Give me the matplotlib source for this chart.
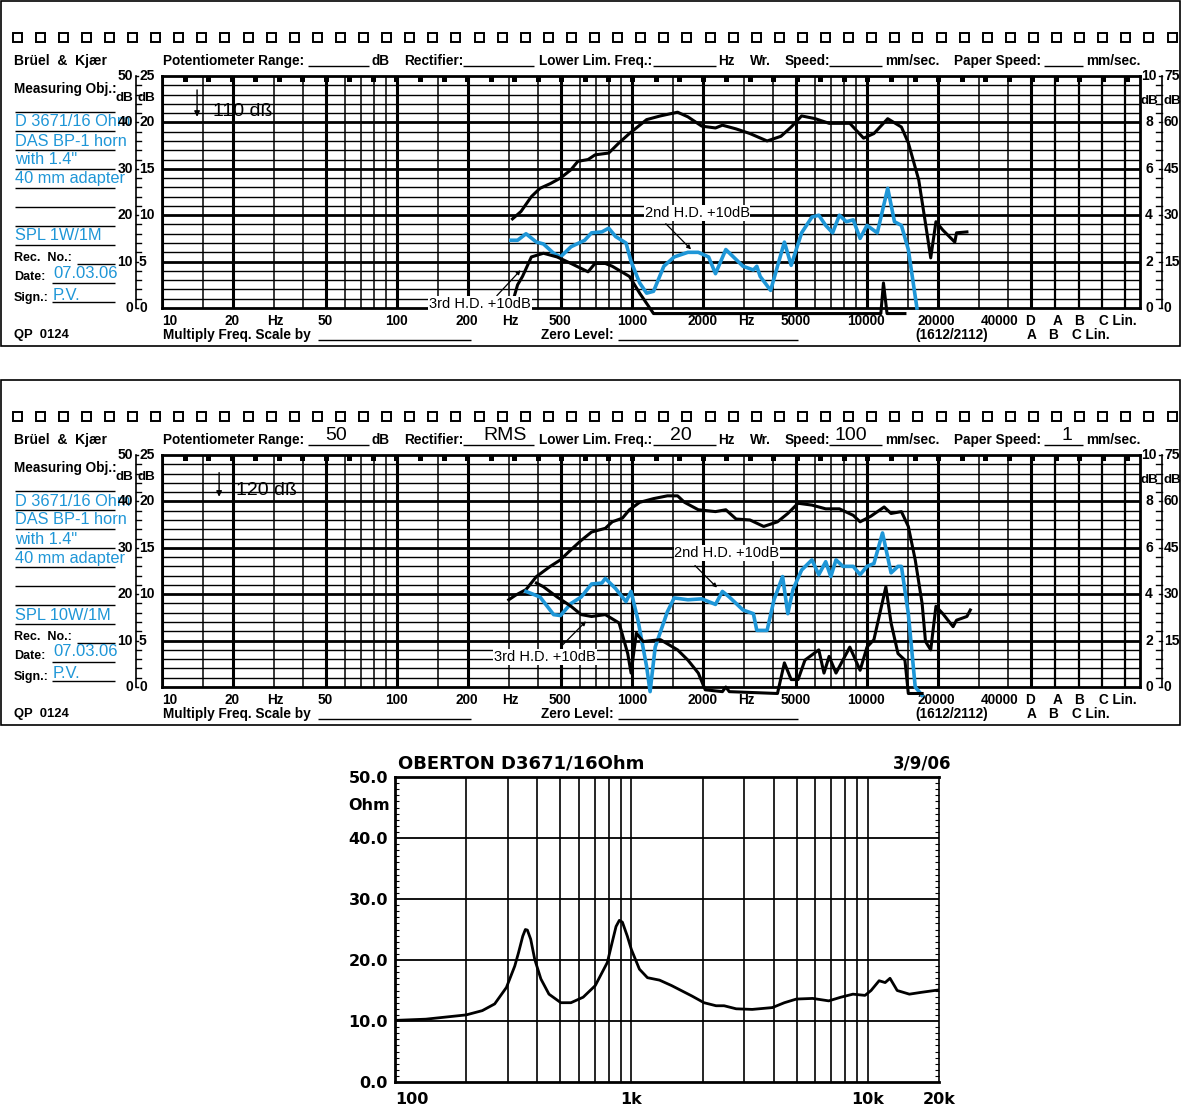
"""
Oberton D3671 on DAS BP-1 horn: two B&K chart-recorder strips (SPL 1 W and 10 W,
with 2nd/3rd harmonic +10 dB) and the impedance curve below.
"""
import numpy as np
import matplotlib
matplotlib.use('Agg')
import matplotlib.pyplot as plt
from matplotlib.patches import Rectangle
from matplotlib.ticker import NullLocator, MultipleLocator

# ── Data read off the strips (Hz, dB on the 25 dB paper scale) ───────────────
# strip 1: SPL 1W/1M
spl1_f = [310, 337, 373, 406, 449, 496, 550, 588, 650, 696, 796, 881, 975, 1043,
          1154, 1321, 1563, 1729, 1980, 2266, 2425, 2773, 3175, 3757, 4301, 4758,
          5269, 6026, 6899, 8450, 9672, 10700, 12250, 14010, 14990, 16600, 17740,
          18670, 19650, 21020, 23640, 24040, 26620]
spl1_db = [9.6, 10.4, 12.0, 12.9, 13.4, 14.0, 14.9, 15.8, 16.0, 16.5, 16.7, 17.8,
           18.8, 19.4, 20.3, 20.7, 21.1, 20.6, 19.6, 19.4, 19.7, 19.3, 18.8, 18.0,
           18.5, 19.5, 20.7, 20.4, 19.9, 19.9, 18.3, 18.8, 20.4, 19.5, 17.8, 13.8,
           9.1, 5.4, 9.3, 8.4, 7.1, 8.1, 8.2]
h2_1_f = [305, 326, 354, 392, 420, 464, 496, 550, 629, 673, 744, 796, 852, 943,
          991, 1078, 1154, 1235, 1366, 1512, 1729, 1915, 2118, 2266, 2507, 2967,
          3285, 3397, 3511, 3889, 4451, 4758, 5269, 5830, 6235, 6672, 7139, 7630,
          8166, 8736, 9346, 10000, 11060, 12250, 13090, 14010, 14990, 16310]
h2_1_db = [7.3, 7.3, 8.0, 7.1, 6.9, 5.9, 5.5, 6.6, 7.3, 8.1, 8.2, 8.6, 7.7, 7.0,
           5.0, 2.7, 1.6, 1.8, 4.5, 5.5, 6.0, 6.0, 5.5, 3.7, 6.3, 4.5, 4.1, 4.5,
           3.4, 1.9, 7.1, 4.6, 8.1, 9.8, 10.0, 8.9, 8.1, 10.0, 9.3, 9.5, 7.5, 8.9,
           8.1, 12.9, 9.3, 8.9, 6.3, 0.0]
h3_1_f = [315, 326, 342, 373, 420, 480, 550, 650, 696, 770, 824, 975, 1078, 1235,
          11450, 11750, 12170, 14500]
h3_1_db = [1.2, 2.5, 3.4, 5.5, 5.9, 5.5, 4.8, 3.9, 4.8, 4.8, 4.5, 3.4, 1.6, -0.6,
           -0.6, 2.7, -0.6, -0.6]

# strip 2: SPL 10W/1M
spl2_f = [299, 320, 354, 392, 449, 496, 550, 608, 673, 770, 824, 911, 975, 1078,
          1235, 1414, 1563, 1673, 1915, 2266, 2507, 2773, 3175, 3634, 4159, 4603,
          5090, 5830, 6672, 7630, 8736, 9346, 10380, 11830, 12660, 14010, 14990,
          16040, 17160, 17740, 18670, 19650, 21020, 23250, 24040, 26620, 27520]
spl2_db = [9.4, 9.9, 10.5, 11.9, 13.0, 13.7, 14.8, 15.8, 16.7, 17.1, 17.8, 18.2,
           19.1, 19.9, 20.3, 20.6, 20.6, 19.9, 19.1, 18.9, 19.1, 18.1, 18.0, 17.3,
           17.8, 18.7, 19.8, 19.6, 19.2, 19.2, 18.5, 17.8, 18.4, 19.4, 18.7, 18.9,
           17.3, 13.7, 9.0, 4.9, 4.0, 8.7, 7.9, 6.5, 7.2, 7.6, 8.3]
h2_2_f = [354, 406, 464, 496, 550, 608, 673, 744, 770, 852, 943, 991, 1060, 1154,
          1194, 1255, 1414, 1512, 1729, 1980, 2266, 2425, 2594, 2967, 3285, 3397,
          3757, 4021, 4374, 4603, 4843, 5269, 5830, 6235, 6672, 7015, 7381, 7897,
          8736, 9346, 10000, 10700, 11640, 12660, 13550, 14010, 14990, 16040, 17160]
h2_2_db = [10.3, 9.7, 7.8, 7.7, 9.0, 9.7, 11.1, 11.2, 11.7, 10.6, 9.2, 10.3, 7.2,
           2.2, -0.5, 4.3, 8.1, 9.6, 9.4, 9.5, 8.9, 10.3, 9.7, 8.3, 7.9, 6.1, 6.1,
           9.4, 11.9, 7.9, 10.5, 12.6, 13.7, 12.1, 13.5, 11.9, 13.7, 13.0, 13.0,
           12.1, 13.0, 13.3, 16.6, 12.3, 13.0, 13.0, 7.9, 0.0, -0.9]
h3_2_f = [392, 420, 480, 550, 608, 673, 770, 881, 959, 991, 1043, 1116, 1321, 1563,
          1729, 1915, 2049, 2425, 2507, 2594, 4159, 4451, 4758, 5090, 5446, 6235,
          6561, 6899, 7381, 7897, 8450, 9346, 10000, 10700, 12030, 12660, 13550,
          14500, 14990, 17160]
h3_2_db = [11.2, 10.8, 9.7, 8.7, 7.8, 7.6, 7.8, 6.9, 3.6, 1.5, 5.8, 4.9, 5.1, 4.0,
           2.9, 1.5, -0.3, -0.5, 0.0, -0.5, -0.7, 2.6, 0.8, 0.8, 2.9, 4.0, 1.5, 3.3,
           1.5, 2.9, 4.3, 1.8, 4.3, 5.1, 10.8, 6.9, 3.6, 2.9, -0.7, -0.7]

# impedance (Hz, Ohm)
imp_f = [100, 135, 200, 234, 264, 296, 321, 333, 347, 356, 363, 375, 390, 414, 448,
         503, 555, 625, 703, 791, 822, 861, 889, 916, 961, 1000, 1081, 1169, 1315,
         1480, 1802, 2028, 2280, 2466, 2773, 3243, 3945, 4437, 4990, 5843, 6834,
         7689, 8650, 9731, 10320, 11160, 11840, 12410, 13310, 14990, 16840, 20000]
imp_ohm = [10.1, 10.3, 11.0, 11.7, 12.8, 15.5, 19.0, 21.2, 23.9, 25.0, 24.9, 23.4,
           20.1, 16.9, 14.4, 13.0, 13.0, 13.9, 15.8, 19.6, 22.3, 25.5, 26.5, 26.2,
           23.9, 21.7, 18.5, 17.1, 16.7, 15.8, 14.1, 13.0, 12.5, 12.5, 12.0, 11.9,
           12.2, 13.0, 13.6, 13.7, 13.3, 13.9, 14.4, 14.2, 15.0, 16.6, 16.3, 17.0,
           15.0, 14.4, 14.7, 15.1]

# paper scale labels
LEFT_OUTER = ['50', '40', '30', '20', '10', '0']
LEFT_INNER = ['25', '20', '15', '10', '5', '0']
RIGHT_INNER = ['10', '8', '6', '4', '2', '0']
RIGHT_OUTER = ['75', '60', '45', '30', '15', '0']
OBJ_LINES = ['D 3671/16 Ohm', 'DAS BP-1 horn', 'with 1.4"', '40 mm adapter']
IMP_YTICKS = [0, 10, 20, 30, 40, 50]
IMP_XTICKS = [100, 1000, 10000, 20000]
IMP_XLABELS = ['100', '1k', '10k', '20k']

# ── Layout ────────────────────────────────────────────────────────────────────
W, H = 1181, 1106
BLUE = '#1e96d7'
SANS = ['Liberation Sans', 'DejaVu Sans']
F_RIGHT = 10 * 10 ** (978 / 235)      # paper edge past the weighting columns
PX_DB = 232 / 25                      # paper: pixels per dB

fig = plt.figure(figsize=(W / 100, H / 100), dpi=100)
bg = fig.add_axes([0, 0, 1, 1])
bg.set_xlim(0, W)
bg.set_ylim(H, 0)
bg.axis('off')


def px_axes(x0, y0, x1, y1):
    return fig.add_axes([x0 / W, 1 - y1 / H, (x1 - x0) / W, (y1 - y0) / H])


def txt(x, y, s, size=9.8, weight='bold', ha='left', color='k'):
    bg.text(x, y, s, fontsize=size, fontweight=weight, ha=ha, va='center',
            color=color, family=SANS)


def hline(x0, x1, y, lw=1.0):
    bg.plot([x0, x1], [y, y], color='k', lw=lw, solid_capstyle='butt')


def bk_strip(dy, spl_label, level_label, fills, curves, notes):
    bg.add_patch(Rectangle((1, 1 + dy), 1179, 345, fill=False, lw=1.2, ec='k'))
    for i in range(51):
        bg.add_patch(Rectangle((12.5 + i * 23.1, 32.5 + dy), 9, 9,
                               fill=False, lw=1.4, ec='k'))

    # header line
    y = 61 + dy
    txt(14, y, 'Brüel  &  Kjær', size=10)
    txt(163, y, 'Potentiometer Range:')
    hline(308, 369, y + 5)
    txt(371, y, 'dB')
    txt(404, y, 'Rectifier:')
    hline(463, 534, y + 5)
    txt(539, y, 'Lower Lim. Freq.:')
    hline(653, 716, y + 5)
    txt(718, y, 'Hz')
    txt(750, y, 'Wr.')
    txt(785, y, 'Speed:')
    hline(829, 882, y + 5)
    txt(885, y, 'mm/sec.')
    txt(954, y, 'Paper Speed:')
    hline(1044, 1083, y + 5)
    txt(1086, y, 'mm/sec.')
    for s, xc in fills:
        txt(xc, y - 4, s, size=14, weight='normal', ha='center')

    # left column
    txt(14, 89 + dy, 'Measuring Obj.:', size=9.8)
    hline(15, 115, 112 + dy)
    for k, s in enumerate(OBJ_LINES):
        txt(15, 122 + 19 * k + dy, s, size=11.8, weight='normal', color=BLUE)
        hline(15, 115, 131 + 19 * k + dy)
    hline(15, 115, 207 + dy)
    hline(15, 115, 226 + dy)
    txt(15, 236 + dy, spl_label, size=11.8, weight='normal', color=BLUE)
    hline(15, 115, 245 + dy)
    txt(14, 258 + dy, 'Rec.  No.:', size=9)
    hline(77, 115, 264 + dy)
    txt(14, 277 + dy, 'Date:', size=9)
    txt(53, 273 + dy, '07.03.06', size=12, weight='normal', color=BLUE)
    hline(52, 115, 283 + dy)
    txt(14, 298 + dy, 'Sign.:', size=9)
    txt(53, 295 + dy, 'P.V.', size=12, weight='normal', color=BLUE)
    hline(52, 115, 302 + dy)
    txt(14, 335 + dy, 'QP  0124', size=9.4)

    # scale columns either side of the paper
    bottom = 308 + dy
    for k in range(6):
        yy = bottom - 5 * (5 - k) * PX_DB
        txt(133, yy, LEFT_OUTER[k], size=10, ha='right')
        txt(139, yy, LEFT_INNER[k], size=10)
        txt(1149, yy, RIGHT_INNER[k], size=10, ha='center')
        txt(1164, yy, RIGHT_OUTER[k], size=10)
    txt(133, 98 + dy, 'dB', size=9.6, ha='right')
    txt(137, 98 + dy, 'dB', size=9.6)
    txt(1149, 101 + dy, 'dB', size=9.6, ha='center')
    txt(1164, 101 + dy, 'dB', size=9.6)
    bg.plot([135.5, 135.5], [76 + dy, bottom], color='k', lw=1.2)
    bg.plot([1162, 1162], [76 + dy, bottom], color='k', lw=1.2)
    for k in range(26):
        yy = bottom - k * PX_DB
        long_tick = k % 5 != 0
        bg.plot([135.5, 141 if long_tick else 138], [yy, yy], color='k', lw=1)
        bg.plot([1156 if long_tick else 1159, 1162], [yy, yy], color='k', lw=1)

    # frequency labels under the paper
    y1, y2 = 321 + dy, 335 + dy
    for s, xc in [('10', 170), ('20', 232), ('Hz', 275), ('50', 325), ('100', 396),
                  ('200', 467), ('Hz', 510), ('500', 560), ('1000', 632),
                  ('2000', 702), ('Hz', 746), ('5000', 796), ('10000', 866),
                  ('20000', 936), ('40000', 1000), ('D', 1030), ('A', 1058),
                  ('B', 1079)]:
        txt(xc, y1, s, ha='center')
    txt(1099, y1, 'C Lin.')
    txt(163, y2, 'Multiply Freq. Scale by')
    hline(318, 471, y2 + 5)
    txt(541, y2, 'Zero Level:')
    hline(618, 798, y2 + 5)
    txt(915, y2, '(1612/2112)')
    txt(1032, y2, 'A', ha='center')
    txt(1053, y2, 'B', ha='center')
    txt(1072, y2, 'C Lin.')

    # pen-registration marks along the top of the paper
    for xm in np.linspace(185, 1127, 41):
        bg.add_patch(Rectangle((xm - 2.5, 76 + dy), 5, 6, color='k', lw=0))

    # the paper itself
    ax = px_axes(162, 76 + dy, 1140, 308 + dy)
    ax.set_facecolor('none')
    ax.set_xscale('log')
    ax.set_xlim(10, F_RIGHT)
    ax.set_ylim(0, 25)
    ax.xaxis.set_major_locator(NullLocator())
    ax.xaxis.set_minor_locator(NullLocator())
    ax.set_yticks([])
    for sp in ax.spines.values():
        sp.set_linewidth(2)
    for dec in [10, 100, 1000, 10000]:
        for m in [1, 1.5, 2, 3, 4, 5, 6, 7, 8, 9]:
            if dec == 10000 and m > 5:
                continue
            ax.axvline(dec * m, color='k', lw=2.2 if m in (1, 2, 5) else 1.1)
    for fw in [63000, 80000, 100000, 125000]:
        ax.axvline(fw, color='k', lw=1.6)
    for k in range(1, 25):
        ax.axhline(k, color='k', lw=2.0 if k % 5 == 0 else 1.0)

    for f, db, color, lw in curves:
        ax.plot(f, db, color=color, lw=lw, clip_on=False, solid_joinstyle='round',
                zorder=4)

    # level arrow
    (fa, da0, da1), (ft, dt) = level_label[1], level_label[2]
    ax.annotate('', xy=(fa, da1), xytext=(fa, da0),
                arrowprops=dict(arrowstyle='-|>', color='k', lw=1, mutation_scale=8))
    ax.text(ft, dt, level_label[0], fontsize=14, family=SANS, ha='left',
            va='center', zorder=5)

    for s, (tf, tdb), (pf0, pdb0), (pf1, pdb1) in notes:
        ax.annotate('', xy=(pf1, pdb1), xytext=(pf0, pdb0),
                    arrowprops=dict(arrowstyle='-|>', color='k', lw=0.9,
                                    mutation_scale=6), zorder=5)
        ax.text(tf, tdb, s, fontsize=10.5, family=SANS, ha='center', va='center',
                bbox=dict(fc='white', ec='none', pad=0.6), zorder=6, clip_on=False)


bk_strip(0, 'SPL 1W/1M',
         ('110 dß', (14.1, 23.8, 20.3), (16.5, 21.2)),
         [],
         [(spl1_f, spl1_db, 'k', 2.2), (h2_1_f, h2_1_db, BLUE, 2.6),
          (h3_1_f, h3_1_db, 'k', 2.2)],
         [('2nd H.D. +10dB', (1891, 10.2), (1366, 9.3), (1818, 6.1)),
          ('3rd H.D. +10dB', (226, 0.4), (261, 1.1), (342, 4.3))])

bk_strip(379, 'SPL 10W/1M',
         ('120 dß', (17.5, 23.4, 20.2), (20.6, 21.2)),
         [('50', 336), ('RMS', 505), ('20', 681), ('100', 851), ('1', 1067)],
         [(spl2_f, spl2_db, 'k', 2.2), (h2_2_f, h2_2_db, BLUE, 2.6),
          (h3_2_f, h3_2_db, 'k', 2.2)],
         [('2nd H.D. +10dB', (2535, 14.4), (1818, 13.3), (2345, 10.5)),
          ('3rd H.D. +10dB', (427, 3.2), (496, 4.3), (650, 7.3))])

# ── Impedance ────────────────────────────────────────────────────────────────
IMP_FONT = dict(family='DejaVu Sans', weight='bold')
bg.text(398, 764, 'OBERTON D3671/16Ohm', fontsize=13, va='center', **IMP_FONT)
bg.text(951, 764, '3/9/06', fontsize=12, va='center', ha='right', **IMP_FONT)
bg.text(390, 806, 'Ohm', fontsize=11.5, va='center', ha='right', **IMP_FONT)

ax3 = px_axes(395, 777, 939, 1082)
ax3.set_xscale('log')
ax3.set_xlim(100, 20000)
ax3.set_ylim(0, 50)
for dec in [100, 1000]:
    for m in range(2, 11):
        ax3.axvline(dec * m, color='k', lw=1.2)
for yv in [10, 20, 30, 40]:
    ax3.axhline(yv, color='k', lw=1.3)
ax3.plot(imp_f, imp_ohm, color='k', lw=2.0, solid_joinstyle='round', zorder=4)

ax3.set_yticks(IMP_YTICKS, [f'{v:.1f}' for v in IMP_YTICKS])
ax3.yaxis.set_minor_locator(MultipleLocator(1))
ax3.yaxis.set_ticks_position('both')
ax3.tick_params(axis='y', which='major', length=0, pad=5, labelsize=11.5)
ax3.tick_params(axis='y', which='minor', direction='in', length=3, width=0.8)
ax3.set_xticks(IMP_XTICKS, IMP_XLABELS)
ax3.xaxis.set_minor_locator(NullLocator())
ax3.tick_params(axis='x', length=0, pad=7, labelsize=11.5)
for lab in ax3.get_xticklabels() + ax3.get_yticklabels():
    lab.set_fontfamily('DejaVu Sans')
    lab.set_fontweight('bold')
ax3.get_xticklabels()[0].set_horizontalalignment('left')
for name, sp in ax3.spines.items():
    sp.set_linewidth(1.2 if name == 'right' else 2.0)

plt.savefig('out.png', dpi=100)
plt.close()
